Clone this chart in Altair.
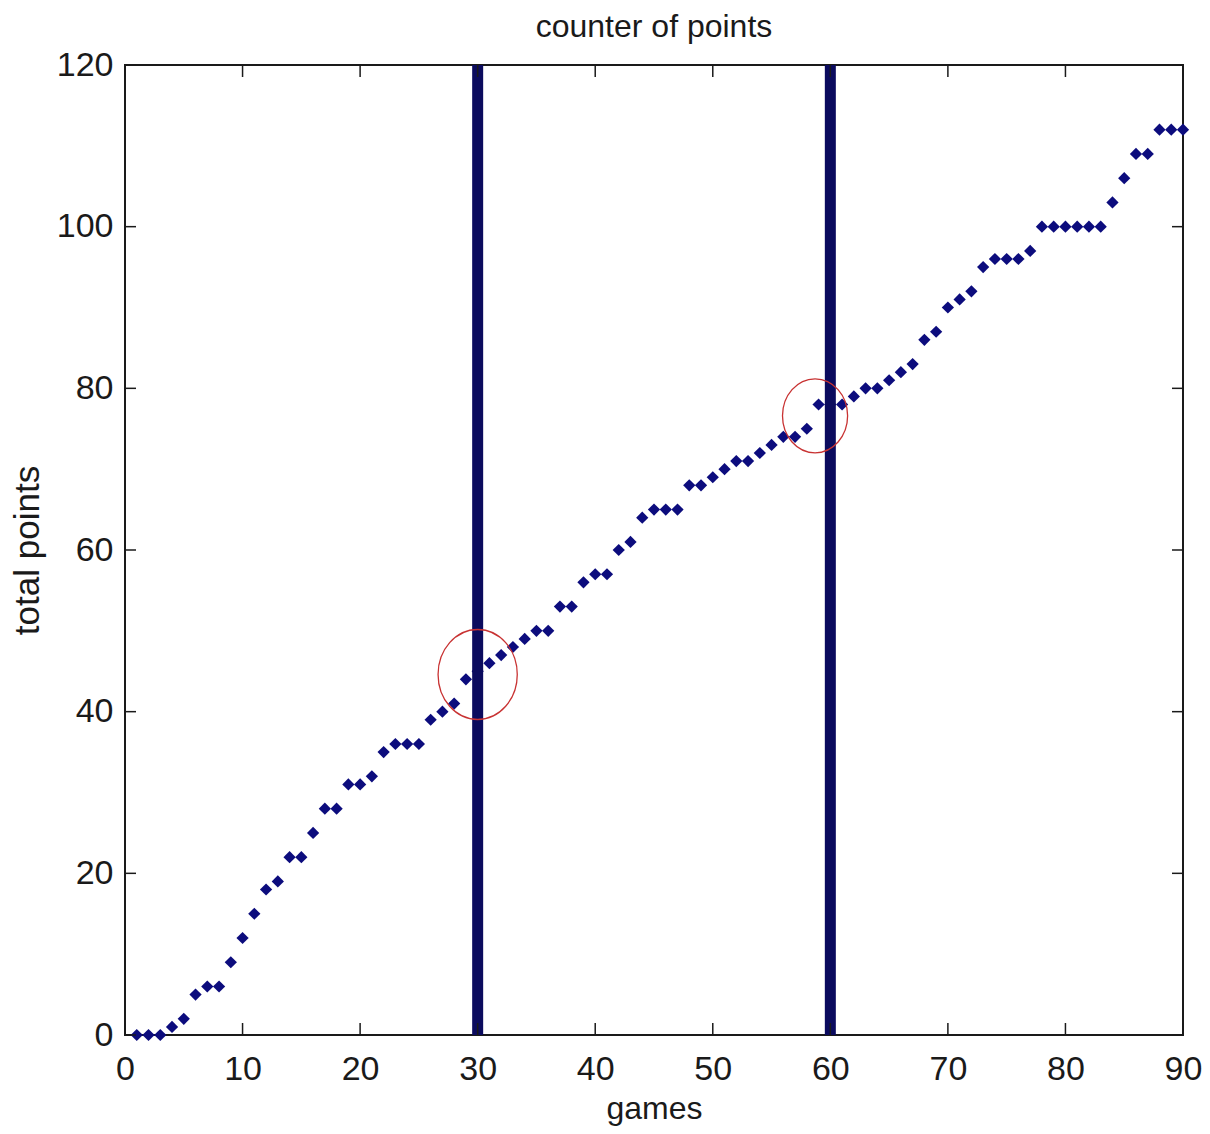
import altair as alt
import pandas as pd

games = list(range(1, 91))
total_points = [
    0, 0, 0, 1, 2, 5, 6, 6, 9, 12,
    15, 18, 19, 22, 22, 25, 28, 28, 31, 31,
    32, 35, 36, 36, 36, 39, 40, 41, 44, 45,
    46, 47, 48, 49, 50, 50, 53, 53, 56, 57,
    57, 60, 61, 64, 65, 65, 65, 68, 68, 69,
    70, 71, 71, 72, 73, 74, 74, 75, 78, 78,
    78, 79, 80, 80, 81, 82, 83, 86, 87, 90,
    91, 92, 95, 96, 96, 96, 97, 100, 100, 100,
    100, 100, 100, 103, 106, 109, 109, 112, 112, 112,
]
x_ticks = [0, 10, 20, 30, 40, 50, 60, 70, 80, 90]
y_ticks = [0, 20, 40, 60, 80, 100, 120]
split_games = [30, 60]
ring_games = [30.0, 58.7]
ring_points = [44.6, 76.6]

W, H = 1058, 970
FONT = "Liberation Sans, Arial, sans-serif"
TXT = "#1a1a1a"
MARK = "#0c0c7d"
BAR = "#0b0b5e"
RING = "#c83232"

df = pd.DataFrame({"games": games, "points": total_points})
df_split = pd.DataFrame({"games": split_games})
df_ring = pd.DataFrame({"games": ring_games, "points": ring_points})
df_xt = pd.DataFrame({"games": x_ticks})
df_yt = pd.DataFrame({"points": y_ticks})

xs = alt.Scale(domain=[0, 90], nice=False, zero=False)
ys = alt.Scale(domain=[0, 120], nice=False)

x_axis = alt.Axis(values=x_ticks, grid=False, ticks=False, domain=False,
                  labelFont=FONT, labelFontSize=34, labelColor=TXT,
                  labelPadding=17, labelFlush=False, labelOverlap=False,
                  title="games", titleFont=FONT, titleFontSize=32,
                  titleFontWeight="normal", titleColor=TXT, titlePadding=7)
y_axis = alt.Axis(values=y_ticks, grid=False, ticks=False, domain=False,
                  labelFont=FONT, labelFontSize=34, labelColor=TXT,
                  labelPadding=12, labelFlush=False, labelOverlap=False,
                  title="total points", titleFont=FONT, titleFontSize=35,
                  titleFontWeight="normal", titleColor=TXT, titlePadding=11)

X = alt.X("games:Q", scale=xs, axis=x_axis, title="games")
Y = alt.Y("points:Q", scale=ys, axis=y_axis, title="total points")

points = alt.Chart(df).mark_point(shape="diamond", filled=True, size=150,
                                  color=MARK, opacity=1).encode(x=X, y=Y)

bars = alt.Chart(df_split).mark_rule(strokeWidth=11, color=BAR).encode(x=X)

ellipse = "M -0.88 0 A 0.88 1 0 1 0 0.88 0 A 0.88 1 0 1 0 -0.88 0 Z"
ring1 = alt.Chart(df_ring.iloc[[0]]).mark_point(
    shape=ellipse, filled=False, size=8100, stroke=RING, strokeWidth=1.3, opacity=1
).encode(x=X, y=Y)
ring2 = alt.Chart(df_ring.iloc[[1]]).mark_point(
    shape=ellipse, filled=False, size=5476, stroke=RING, strokeWidth=1.3, opacity=1
).encode(x=X, y=Y)

tick_style = dict(color=TXT, strokeWidth=1.5)
xt_bottom = alt.Chart(df_xt).mark_rule(**tick_style).encode(
    x=X, y=alt.value(H), y2=alt.value(H - 12))
xt_top = alt.Chart(df_xt).mark_rule(**tick_style).encode(
    x=X, y=alt.value(0), y2=alt.value(12))
yt_left = alt.Chart(df_yt).mark_rule(**tick_style).encode(
    y=Y, x=alt.value(0), x2=alt.value(11))
yt_right = alt.Chart(df_yt).mark_rule(**tick_style).encode(
    y=Y, x=alt.value(W), x2=alt.value(W - 11))

chart = alt.layer(points, bars, ring1, ring2, xt_bottom, xt_top, yt_left, yt_right).properties(
    width=W, height=H,
    title=alt.TitleParams("counter of points", font=FONT, fontSize=32,
                          fontWeight="normal", color=TXT, anchor="middle",
                          frame="group", offset=4),
    padding={"left": 117, "top": 57, "right": 19, "bottom": 91},
    autosize=alt.AutoSizeParams(type="none"),
).configure(background="white").configure_view(stroke=TXT, strokeWidth=2)

chart.save("out.html", embed_options={"renderer": "svg", "actions": False})
